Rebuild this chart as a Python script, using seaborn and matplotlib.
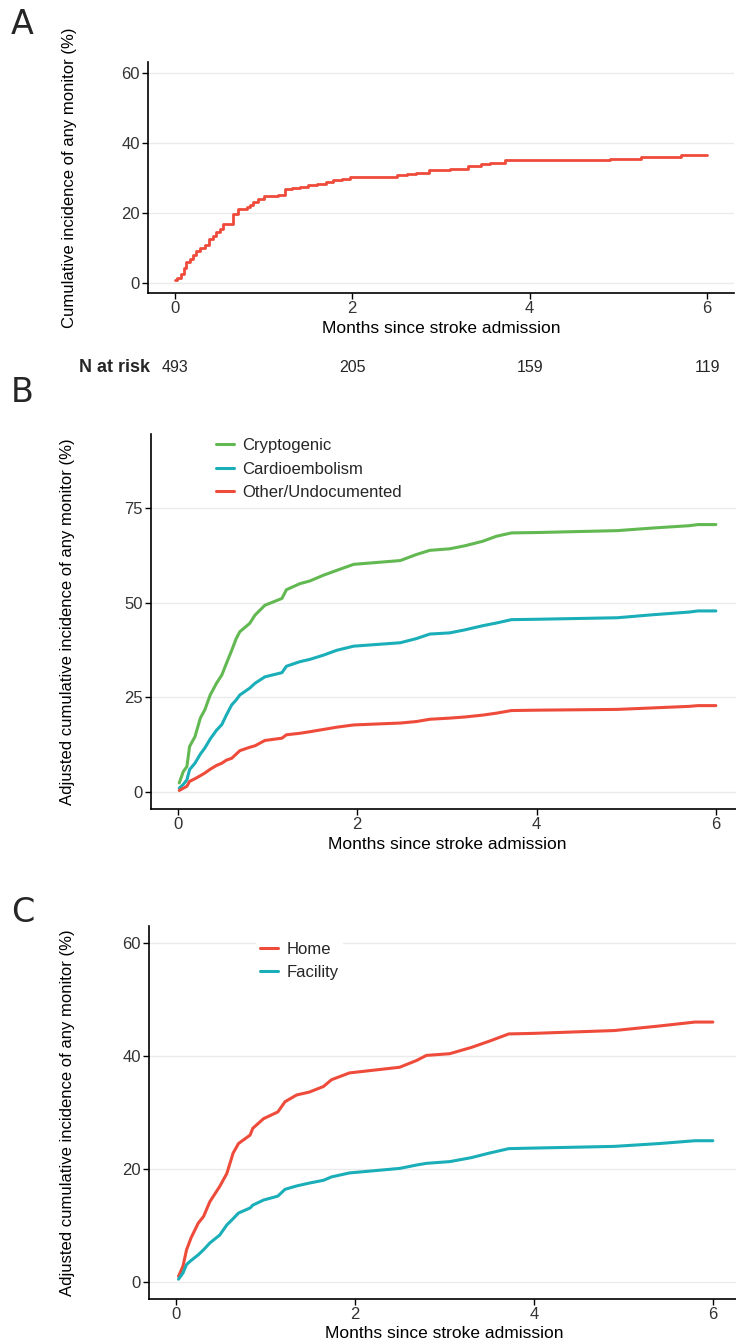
import pandas as pd
import matplotlib.pyplot as plt
import matplotlib.transforms as mtransforms
from matplotlib import font_manager
import seaborn as sns

# Panel A: cumulative incidence (step curve)
a_months = [0.0, 0.03, 0.075, 0.10, 0.13, 0.17, 0.21, 0.24, 0.29, 0.34, 0.39, 0.43, 0.47, 0.51,
            0.54, 0.60, 0.64, 0.66, 0.71, 0.81, 0.85, 0.88, 0.94, 1.01, 1.16, 1.24, 1.32, 1.41,
            1.50, 1.60, 1.70, 1.78, 1.88, 1.97, 2.50, 2.62, 2.72, 2.87, 3.10, 3.30, 3.45,
            3.55, 3.72, 4.90, 5.25, 5.70, 6.0]
a_incidence = [0.6, 1.4, 2.5, 4.2, 5.8, 6.8, 8.0, 9.1, 9.9, 10.6, 12.5, 13.4, 14.4, 15.2,
               16.6, 16.8, 16.8, 19.6, 21.0, 21.5, 22.2, 22.9, 23.8, 24.6, 25.0, 26.8, 27.1,
               27.4, 27.8, 28.2, 28.8, 29.3, 29.7, 30.1, 30.6, 30.9, 31.2, 32.2, 32.5, 33.2,
               34.0, 34.2, 35.0, 35.4, 36.0, 36.5, 36.5]
risk_months = [0, 2, 4, 6]
risk_counts = [493, 205, 159, 119]

# Panel B: by stroke etiology
b_months = [0.015, 0.06, 0.10, 0.13, 0.19, 0.25, 0.30, 0.36, 0.43, 0.49, 0.54, 0.60, 0.65,
            0.69, 0.80, 0.86, 0.97, 1.16, 1.21, 1.36, 1.47, 1.62, 1.77, 1.96, 2.48, 2.66,
            2.81, 3.03, 3.20, 3.40, 3.55, 3.72, 4.00, 4.90, 5.30, 5.70, 5.80, 6.0]
b_cryptogenic = [2.4, 5.4, 6.7, 12.0, 14.6, 19.5, 21.7, 25.6, 28.7, 30.9, 33.9, 37.4, 40.5,
                 42.3, 44.5, 46.7, 49.3, 51.1, 53.4, 55.0, 55.7, 57.2, 58.5, 60.1, 61.1, 62.7,
                 63.8, 64.2, 65.0, 66.2, 67.5, 68.4, 68.5, 69.0, 69.7, 70.3, 70.6, 70.6]
b_cardio = [1.0, 2.0, 3.2, 5.9, 7.6, 10.0, 11.6, 14.0, 16.3, 17.8, 20.3, 23.0, 24.3,
            25.6, 27.4, 28.7, 30.4, 31.5, 33.2, 34.4, 35.0, 36.1, 37.4, 38.5, 39.4, 40.5,
            41.7, 42.0, 42.8, 43.9, 44.6, 45.5, 45.6, 46.0, 46.8, 47.5, 47.8, 47.8]
b_other = [0.4, 1.0, 1.5, 2.8, 3.5, 4.3, 5.0, 6.0, 7.0, 7.6, 8.4, 8.9, 10.0,
           10.9, 11.8, 12.2, 13.6, 14.2, 15.1, 15.5, 15.9, 16.5, 17.1, 17.7, 18.2, 18.6,
           19.2, 19.5, 19.8, 20.3, 20.8, 21.5, 21.6, 21.8, 22.2, 22.6, 22.8, 22.8]
b_groups = ["Cryptogenic", "Cardioembolism", "Other/Undocumented"]

# Panel C: by discharge destination
c_months = [0.03, 0.08, 0.12, 0.17, 0.25, 0.31, 0.38, 0.49, 0.57, 0.64, 0.70, 0.83, 0.86,
            0.98, 1.14, 1.22, 1.35, 1.49, 1.65, 1.74, 1.94, 2.50, 2.69, 2.80, 3.06, 3.30,
            3.50, 3.72, 4.00, 4.90, 5.40, 5.80, 6.0]
c_home = [1.0, 2.8, 5.7, 7.8, 10.4, 11.6, 14.2, 16.9, 19.2, 22.8, 24.5, 26.0, 27.2,
          28.9, 30.1, 31.9, 33.1, 33.6, 34.6, 35.8, 37.0, 38.0, 39.2, 40.1, 40.4, 41.5,
          42.6, 43.9, 44.0, 44.5, 45.3, 46.0, 46.0]
c_facility = [0.5, 1.6, 3.1, 3.8, 4.8, 5.7, 6.9, 8.3, 10.1, 11.2, 12.2, 13.1, 13.6,
              14.5, 15.2, 16.4, 17.0, 17.5, 18.0, 18.6, 19.3, 20.1, 20.7, 21.0, 21.3, 22.0,
              22.8, 23.6, 23.7, 24.0, 24.5, 25.0, 25.0]
c_groups = ["Home", "Facility"]

red = "#EE4B3B"
cyan = "#1AAEB8"
green = "#62B851"

sns.set_theme(style="white")
names = {f.name for f in font_manager.fontManager.ttflist}
narrow = "Liberation Sans Narrow" if "Liberation Sans Narrow" in names else "Liberation Sans"
plt.rcParams["font.family"] = [narrow, "DejaVu Sans"]

fig = plt.figure(figsize=(7.36, 13.43), dpi=100)
axA = fig.add_axes([0.2011, 0.7818, 0.796, 0.1720])
axB = fig.add_axes([0.2052, 0.3976, 0.804, 0.2792])
axC = fig.add_axes([0.2024, 0.0328, 0.8026, 0.2777])

dfA = pd.DataFrame({"month": a_months, "inc": a_incidence})
sns.lineplot(data=dfA, x="month", y="inc", ax=axA, color=red, lw=2.0,
             drawstyle="steps-post", estimator=None, sort=False)

dfB = pd.concat([
    pd.DataFrame({"month": b_months, "inc": v, "group": g})
    for g, v in zip(b_groups, [b_cryptogenic, b_cardio, b_other])
])
sns.lineplot(data=dfB, x="month", y="inc", hue="group", hue_order=b_groups,
             palette=[green, cyan, red], ax=axB, lw=2.2, estimator=None, sort=False,
             legend=False)

dfC = pd.concat([
    pd.DataFrame({"month": c_months, "inc": v, "group": g})
    for g, v in zip(c_groups, [c_home, c_facility])
])
sns.lineplot(data=dfC, x="month", y="inc", hue="group", hue_order=c_groups,
             palette=[red, cyan], ax=axC, lw=2.2, estimator=None, sort=False,
             legend=False)

ylabels = ["Cumulative incidence of any monitor (%)",
           "Adjusted cumulative incidence of any monitor (%)",
           "Adjusted cumulative incidence of any monitor (%)"]
yticks = [[0, 20, 40, 60], [0, 25, 50, 75], [0, 20, 40, 60]]
ylims = [(-3, 63), (-4.5, 94.5), (-3, 63)]
labx = [-0.121, -0.128, -0.125]

for ax, yl, yt, lim, lx in zip([axA, axB, axC], ylabels, yticks, ylims, labx):
    ax.set_xlim(-0.3, 6.3)
    ax.set_ylim(*lim)
    ax.set_xticks([0, 2, 4, 6])
    ax.set_yticks(yt)
    ax.grid(axis="y", color="#EBEBEB", lw=1.0)
    ax.set_axisbelow(True)
    for s in ["top", "right"]:
        ax.spines[s].set_visible(False)
    for s in ["left", "bottom"]:
        ax.spines[s].set_color("black")
        ax.spines[s].set_linewidth(1.2)
    ax.tick_params(axis="both", which="major", direction="out", length=4, width=1,
                   color="black", labelsize=12, labelcolor="#333333", left=True, bottom=True, pad=2)
    ax.set_xlabel("Months since stroke admission", fontsize=12.5, color="black", labelpad=3)
    ax.set_ylabel(yl, fontsize=12, family="Liberation Sans", color="black")
    ax.yaxis.set_label_coords(lx, 0.5)

# N at risk row
fig.text(150 / 736, 1 - 367 / 1343, "N at risk", ha="right", va="center",
         fontsize=13, fontweight="bold")
trans = mtransforms.blended_transform_factory(axA.transData, fig.transFigure)
for m, n in zip(risk_months, risk_counts):
    axA.text(m, 1 - 367 / 1343, str(n), transform=trans, ha="center", va="center",
             fontsize=11.5, clip_on=False)

# Legends
legB = axB.legend(handles=axB.lines[:3], labels=b_groups, loc="upper left",
                  bbox_to_anchor=(0.110, 0.989), frameon=False, fontsize=12,
                  handlelength=1.08, handletextpad=0.5, labelspacing=0.5, borderpad=0,
                  borderaxespad=0)
legC = axC.legend(handles=axC.lines[:2], labels=c_groups, loc="upper left",
                  bbox_to_anchor=(0.181, 0.969), frameon=True, fontsize=12,
                  handlelength=1.08, handletextpad=0.5, labelspacing=0.5, borderpad=0.25,
                  borderaxespad=0, fancybox=False)
legC.get_frame().set_facecolor("white")
legC.get_frame().set_edgecolor("none")
legC.get_frame().set_alpha(1)

# Panel letters
for letter, py in zip(["A", "B", "C"], [8, 376, 896]):
    fig.text(11 / 736, 1 - py / 1343, letter, ha="left", va="top", fontsize=24,
             family="DejaVu Sans")

fig.savefig("out.png", dpi=100)
